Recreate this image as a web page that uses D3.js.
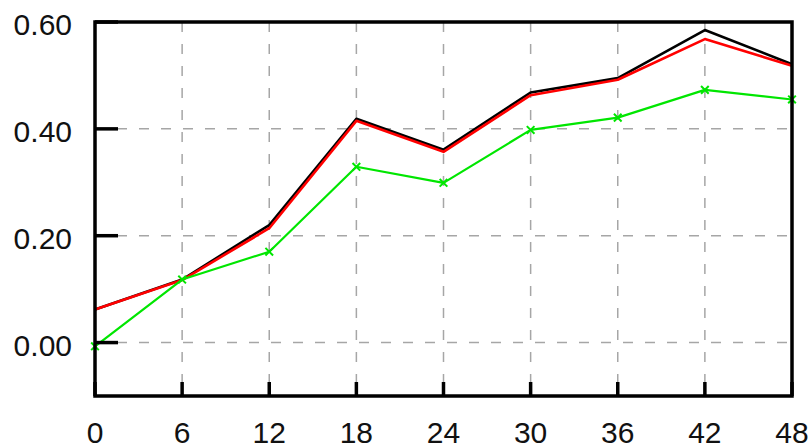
<!DOCTYPE html>
<html>
<head>
<meta charset="utf-8">
<script src="https://cdn.jsdelivr.net/npm/d3@7/dist/d3.min.js"></script>
<style>
  html, body { margin: 0; padding: 0; background: #fff; }
  svg { display: block; }
  text { font-family: "Liberation Sans", Arial, Helvetica, sans-serif; font-size: 30px; fill: #111; }
</style>
</head>
<body>
<svg id="chart" width="812" height="448"></svg>
<script>
// Hours along the x axis
const hours = [0, 6, 12, 18, 24, 30, 36, 42, 48];
// Three series, one value per hour
const blackSeries = [0.062, 0.118, 0.220, 0.419, 0.361, 0.468, 0.495, 0.585, 0.521];
const redSeries   = [0.062, 0.117, 0.214, 0.415, 0.357, 0.463, 0.492, 0.568, 0.518];
const greenSeries = [-0.007, 0.118, 0.170, 0.329, 0.299, 0.398, 0.421, 0.473, 0.455];
// Tick values and their labels
const xTicks = [0, 6, 12, 18, 24, 30, 36, 42, 48];
const yTicks = [0.0, 0.2, 0.4, 0.6];
const yTickLabels = ["0.00", "0.20", "0.40", "0.60"];

const svg = d3.select("#chart");
const plot = { left: 95, right: 792, top: 22, bottom: 396 };

const x = d3.scaleLinear().domain([0, 48]).range([plot.left, plot.right]);
const y = d3.scaleLinear().domain([-0.1, 0.6]).range([plot.bottom, plot.top]);

// Dashed grid
const grid = svg.append("g")
  .attr("stroke", "#a6a6a6")
  .attr("stroke-width", 1.5)
  .attr("stroke-dasharray", "10,12");
grid.selectAll("line.v").data(xTicks.slice(1, -1)).join("line")
  .attr("class", "v")
  .attr("x1", d => x(d)).attr("x2", d => x(d))
  .attr("y1", plot.top).attr("y2", plot.bottom);
grid.selectAll("line.h").data(yTicks.slice(0, -1)).join("line")
  .attr("class", "h")
  .attr("x1", plot.left).attr("x2", plot.right)
  .attr("y1", d => y(d)).attr("y2", d => y(d));

// Series lines
const line = d3.line().x((d, i) => x(hours[i])).y(d => y(d));
svg.append("path").datum(blackSeries)
  .attr("fill", "none").attr("stroke", "#000").attr("stroke-width", 2.6)
  .attr("stroke-linejoin", "round").attr("d", line);
svg.append("path").datum(redSeries)
  .attr("fill", "none").attr("stroke", "#ff0000").attr("stroke-width", 2.6)
  .attr("stroke-linejoin", "round").attr("d", line);
svg.append("path").datum(greenSeries)
  .attr("fill", "none").attr("stroke", "#00e600").attr("stroke-width", 2.2)
  .attr("stroke-linejoin", "round").attr("d", line);

// Cross markers on the green series
const cross = d3.symbol().type(d3.symbolX).size(40);
svg.append("g").selectAll("path").data(greenSeries).join("path")
  .attr("transform", (d, i) => `translate(${x(hours[i])},${y(d)})`)
  .attr("d", cross)
  .attr("fill", "none").attr("stroke", "#00e600").attr("stroke-width", 2);

// Frame
svg.append("rect")
  .attr("x", plot.left).attr("y", plot.top)
  .attr("width", plot.right - plot.left).attr("height", plot.bottom - plot.top)
  .attr("fill", "none").attr("stroke", "#000").attr("stroke-width", 3.5);

// Y ticks (inward) and labels
svg.append("g").selectAll("line").data(yTicks).join("line")
  .attr("x1", plot.left).attr("x2", plot.left + 23)
  .attr("y1", d => y(d)).attr("y2", d => y(d))
  .attr("stroke", "#000").attr("stroke-width", 3.5);
svg.append("g").selectAll("text").data(yTicks).join("text")
  .attr("x", 72).attr("y", d => y(d)).attr("dy", 13)
  .attr("text-anchor", "end")
  .text((d, i) => yTickLabels[i]);

// X ticks (inward) and labels
svg.append("g").selectAll("line").data(xTicks).join("line")
  .attr("x1", d => x(d)).attr("x2", d => x(d))
  .attr("y1", plot.bottom).attr("y2", plot.bottom - 14)
  .attr("stroke", "#000").attr("stroke-width", 3.5);
svg.append("g").selectAll("text").data(xTicks).join("text")
  .attr("x", d => x(d)).attr("y", 443)
  .attr("text-anchor", "middle")
  .text(d => d);
</script>
</body>
</html>
